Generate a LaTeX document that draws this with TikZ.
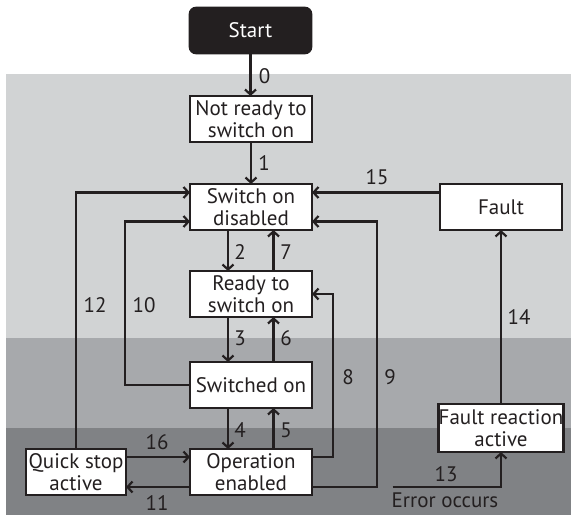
\documentclass[tikz,border=0pt]{standalone}
\usepackage{fontspec}
\setmainfont{PT Sans}
\usetikzlibrary{arrows.meta}
\definecolor{ink}{HTML}{231F20}
\definecolor{lightg}{HTML}{D1D3D4}
\definecolor{midg}{HTML}{A7A9AC}
\definecolor{darkg}{HTML}{808285}
\tikzset{
  txt/.style={font=\fontsize{21}{21.5}\selectfont, text=ink},
  state/.style={txt, draw=ink, line width=2.6pt, fill=white, align=center,
    minimum width=122pt, minimum height=46pt, inner sep=0pt, outer sep=0pt},
  startbox/.style={state, fill=ink, text=white, rounded corners=6pt},
  lbl/.style={txt, inner sep=0pt},
  arr/.style={draw=ink, line width=2.2pt, -{Straight Barb[length=5pt,width=11pt,line width=2.2pt]}},
}
\begin{document}
\begin{tikzpicture}[x=1pt,y=-1pt]
\useasboundingbox (0,0) rectangle (571,515);
% bands
\fill[lightg] (6,74) rectangle (571,338);
\fill[midg] (6,338) rectangle (571,428);
\fill[darkg] (6,428) rectangle (571,515);
% states
\node[startbox, minimum width=121pt, minimum height=45pt] (start) at (250.5,30.5) {Start};
\node[state] (nr) at (251,119) {Not ready to\\switch on};
\node[state] (sod) at (251,207) {Switch on\\disabled};
\node[state] (rtso) at (251,294) {Ready to\\switch on};
\node[state] (so) at (251,385) {Switched on};
\node[state] (oe) at (251,472) {Operation\\enabled};
\node[state, minimum width=100pt] (qsa) at (76,472) {Quick stop\\active};
\node[state] (fault) at (501,207) {Fault};
\node[state, minimum width=124pt, minimum height=48pt] (fra) at (501,428) {Fault reaction\\active};
% helper coordinates
\coordinate (q16) at ([yshift=15pt]qsa.east);
\coordinate (o11) at ([yshift=-15pt]oe.west);
\coordinate (o8) at ([yshift=15pt]oe.east);
\coordinate (o9) at ([yshift=-15pt]oe.east);
\coordinate (f15) at ([yshift=14.5pt]fault.west);
\coordinate (sodUL) at ([yshift=14.5pt]sod.west);
\coordinate (sodLL) at ([yshift=-14.5pt]sod.west);
\coordinate (sodLR) at ([yshift=-14.5pt]sod.east);
\coordinate (err) at (392.5,487);
% connectors
\draw[arr] (start.south) -- (start.south |- nr.north);
\draw[arr] (nr) -- (sod);
\draw[arr] ([xshift=-23pt]sod.south) -- ([xshift=-23pt]rtso.north);
\draw[arr] ([xshift=22.5pt]rtso.north) -- ([xshift=22.5pt]sod.south);
\draw[arr] ([xshift=-23pt]rtso.south) -- ([xshift=-23pt]so.north);
\draw[arr] ([xshift=22.5pt]so.north) -- ([xshift=22.5pt]rtso.south);
\draw[arr] ([xshift=-23pt]so.south) -- ([xshift=-23pt]oe.north);
\draw[arr] ([xshift=22.5pt]oe.north) -- ([xshift=22.5pt]so.south);
\draw[arr] (f15) -- (f15 -| sod.east);
\draw[arr] (qsa.north) |- (sodUL);
\draw[arr] (so.west) -- ++(-65,0) |- (sodLL);
\draw[arr] (o9) -- ++(65,0) |- (sodLR);
\draw[arr] (o8) -- ++(21,0) |- (rtso.east);
\draw[arr] (q16) -- (q16 -| oe.west);
\draw[arr] (o11) -- (o11 -| qsa.east);
\draw[arr] (err) -| (fra.south);
\draw[arr] (fra.north) -- (fault.south);
% labels
\node[lbl] (l0) at (264.5,76) {0};
\node[lbl] (l1) at (264,163) {1};
\node[lbl] (l2) at (240,252) {2};
\node[lbl] (l7) at (286,252) {7};
\node[lbl] (l3) at (240,338) {3};
\node[lbl] (l6) at (286,338) {6};
\node[lbl] (l4) at (240,430) {4};
\node[lbl] (l5) at (286,430) {5};
\node[lbl] (l15) at (377,177) {15};
\node[lbl] (l12) at (95,305) {12};
\node[lbl] (l10) at (144,305) {10};
\node[lbl] (l14) at (519,317) {14};
\node[lbl] (l8) at (348,377) {8};
\node[lbl] (l9) at (390,377) {9};
\node[lbl] (l16) at (157,442) {16};
\node[lbl] (l11) at (157,503) {11};
\node[lbl] (l13) at (446,474) {13};
\node[lbl] (lerr) at (445,500) {Error occurs};
\end{tikzpicture}
\end{document}
